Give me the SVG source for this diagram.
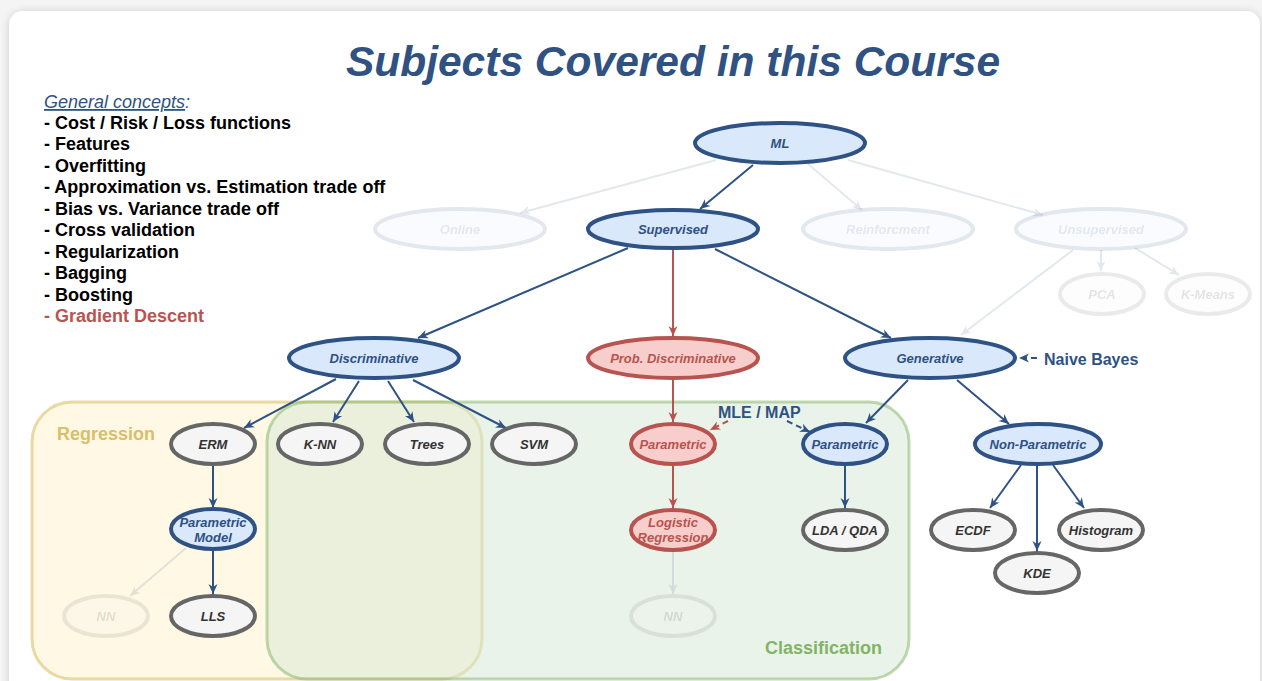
<svg xmlns="http://www.w3.org/2000/svg" width="1262" height="681" viewBox="0 0 1262 681">
<defs>
<style>
.t{font-family:"Liberation Sans",Arial,sans-serif;font-weight:bold;font-style:italic;font-size:13px;text-anchor:middle}
.bn{fill:#dae8fc;stroke:#2e5283;stroke-width:4}
.bt{fill:#2e5283}
.rn{fill:#f8cecc;stroke:#b85450;stroke-width:4}
.rt{fill:#b85450}
.gn{fill:#f5f5f5;stroke:#666666;stroke-width:4}
.gt{fill:#333333}
.fade{opacity:0.13}
.e{fill:none;stroke-width:2}
.eb{stroke:#2e5283}
.er{stroke:#b85450}
.list{font-family:"Liberation Sans",Arial,sans-serif;font-weight:bold;font-size:18px;fill:#000}
.list.red{fill:#b85450}
</style>
<marker id="ab" viewBox="0 0 10 10" refX="10" refY="5" markerWidth="11" markerHeight="10" markerUnits="userSpaceOnUse" orient="auto"><path d="M0,0.5 L10,5 L0,9.5 L3,5 Z" fill="#2e5283"/></marker>
<marker id="ar" viewBox="0 0 10 10" refX="10" refY="5" markerWidth="11" markerHeight="10" markerUnits="userSpaceOnUse" orient="auto"><path d="M0,0.5 L10,5 L0,9.5 L3,5 Z" fill="#b85450"/></marker>
<filter id="sh" x="-5%" y="-5%" width="110%" height="110%"><feGaussianBlur in="SourceAlpha" stdDeviation="4"/><feOffset dx="0" dy="1"/><feComponentTransfer><feFuncA type="linear" slope="0.18"/></feComponentTransfer><feMerge><feMergeNode/><feMergeNode in="SourceGraphic"/></feMerge></filter>
</defs>
<rect x="0" y="0" width="1262" height="681" fill="#f4f4f4"/>
<rect x="9" y="11" width="1251" height="700" rx="14" fill="#ffffff" filter="url(#sh)"/>

<text x="673" y="76" font-family="Liberation Sans,Arial,sans-serif" font-weight="bold" font-style="italic" font-size="42.5" fill="#2f5283" text-anchor="middle">Subjects Covered in this Course</text>

<g id="concepts">
<text x="44" y="108" font-family="Liberation Sans,Arial,sans-serif" font-style="italic" font-size="18" fill="#2f5283"><tspan text-decoration="underline">General concepts</tspan>:</text>
<text class="list" x="44" y="129">- Cost / Risk / Loss functions</text>
<text class="list" x="44" y="150.4">- Features</text>
<text class="list" x="44" y="171.9">- Overfitting</text>
<text class="list" x="44" y="193.3">- Approximation vs. Estimation trade off</text>
<text class="list" x="44" y="214.8">- Bias vs. Variance trade off</text>
<text class="list" x="44" y="236.2">- Cross validation</text>
<text class="list" x="44" y="257.6">- Regularization</text>
<text class="list" x="44" y="279.1">- Bagging</text>
<text class="list" x="44" y="300.5">- Boosting</text>
<text class="list red" x="44" y="322">- Gradient Descent</text>
</g>

<g id="containers">
<rect id="regression" x="32" y="402" width="450" height="277" rx="40" fill="#fff2cc" fill-opacity="0.5" stroke="#d6b656" stroke-opacity="0.5" stroke-width="3"/>
<rect id="classification" x="267" y="402" width="642" height="277" rx="40" fill="#d5e8d4" fill-opacity="0.5" stroke="#82b366" stroke-opacity="0.5" stroke-width="3"/>
<text x="57" y="440" font-family="Liberation Sans,Arial,sans-serif" font-weight="bold" font-size="18" fill="#d6b656" fill-opacity="0.9">Regression</text>
<text x="765" y="654" font-family="Liberation Sans,Arial,sans-serif" font-weight="bold" font-size="18" fill="#82b366">Classification</text>
</g>

<g id="connectors">
<g class="fade">
<line class="e eb" x1="716" y1="160" x2="520" y2="213" marker-end="url(#ab)"/>
<line class="e eb" x1="808" y1="164" x2="862" y2="210" marker-end="url(#ab)"/>
<line class="e eb" x1="848" y1="160" x2="1043" y2="215" marker-end="url(#ab)"/>
<line class="e eb" x1="1073" y1="250" x2="961" y2="335" marker-end="url(#ab)"/>
<line class="e eb" x1="1101" y1="250" x2="1101" y2="271" marker-end="url(#ab)"/>
<line class="e eb" x1="1135" y1="248" x2="1179" y2="275" marker-end="url(#ab)"/>
<line class="e eb" x1="186" y1="548" x2="130" y2="596" marker-end="url(#ab)"/>
<line class="e eb" x1="673" y1="552" x2="673" y2="594" marker-end="url(#ab)"/>
</g>
<line class="e eb" x1="753" y1="165" x2="700" y2="209" marker-end="url(#ab)"/>
<line class="e eb" x1="628" y1="248" x2="418" y2="338" marker-end="url(#ab)"/>
<line class="e er" x1="673" y1="250" x2="673" y2="336" marker-end="url(#ar)"/>
<line class="e eb" x1="715" y1="249" x2="891" y2="338" marker-end="url(#ab)"/>
<line class="e eb" x1="1037" y1="358" x2="1019" y2="358" stroke-dasharray="6 4" marker-end="url(#ab)"/>
<line class="e eb" x1="336" y1="379" x2="244" y2="428" marker-end="url(#ab)"/>
<line class="e eb" x1="359" y1="381" x2="333" y2="422" marker-end="url(#ab)"/>
<line class="e eb" x1="388" y1="381" x2="414" y2="422" marker-end="url(#ab)"/>
<line class="e eb" x1="413" y1="380" x2="506" y2="428" marker-end="url(#ab)"/>
<line class="e er" x1="673" y1="380" x2="673" y2="422" marker-end="url(#ar)"/>
<line class="e eb" x1="908" y1="380" x2="866" y2="423" marker-end="url(#ab)"/>
<line class="e eb" x1="957" y1="380" x2="1009" y2="424" marker-end="url(#ab)"/>
<line class="e er" x1="728" y1="421" x2="710" y2="430" stroke-dasharray="6 4" marker-end="url(#ar)"/>
<line class="e eb" x1="787" y1="421" x2="810" y2="432" stroke-dasharray="6 4" marker-end="url(#ab)"/>
<line class="e eb" x1="213" y1="466" x2="213" y2="508" marker-end="url(#ab)"/>
<line class="e eb" x1="213" y1="551" x2="213" y2="594" marker-end="url(#ab)"/>
<line class="e er" x1="673" y1="466" x2="673" y2="508" marker-end="url(#ar)"/>
<line class="e eb" x1="845" y1="466" x2="845" y2="508" marker-end="url(#ab)"/>
<line class="e eb" x1="1021" y1="465" x2="990" y2="508" marker-end="url(#ab)"/>
<line class="e eb" x1="1037" y1="466" x2="1037" y2="551" marker-end="url(#ab)"/>
<line class="e eb" x1="1053" y1="465" x2="1084" y2="508" marker-end="url(#ab)"/>
<text x="718" y="418" font-family="Liberation Sans,Arial,sans-serif" font-weight="bold" font-size="16" fill="#2e5283">MLE / MAP</text>
<text x="1044" y="365" font-family="Liberation Sans,Arial,sans-serif" font-weight="bold" font-size="16" fill="#2e5283">Naive Bayes</text>
</g>

<g id="n-ml"><ellipse class="bn" cx="780" cy="143" rx="85" ry="20"/><text class="t bt" x="780" y="148">ML</text></g>
<g id="n-online" class="fade"><ellipse class="bn" cx="460" cy="229" rx="85" ry="20"/><text class="t bt" x="460" y="234">Online</text></g>
<g id="n-supervised"><ellipse class="bn" cx="673" cy="229" rx="85" ry="19"/><text class="t bt" x="673" y="234">Supervised</text></g>
<g id="n-reinf" class="fade"><ellipse class="bn" cx="888" cy="229" rx="85" ry="20"/><text class="t bt" x="888" y="234">Reinforcment</text></g>
<g id="n-unsup" class="fade"><ellipse class="bn" cx="1101" cy="229" rx="85" ry="20"/><text class="t bt" x="1101" y="234">Unsupervised</text></g>
<g id="n-pca" class="fade"><ellipse class="gn" cx="1102" cy="294" rx="42" ry="20"/><text class="t gt" x="1102" y="299">PCA</text></g>
<g id="n-kmeans" class="fade"><ellipse class="gn" cx="1208" cy="294" rx="42" ry="20"/><text class="t gt" x="1208" y="299">K-Means</text></g>
<g id="n-disc"><ellipse class="bn" cx="374" cy="358" rx="85" ry="20"/><text class="t bt" x="374" y="363">Discriminative</text></g>
<g id="n-probdisc"><ellipse class="rn" cx="673" cy="358" rx="85" ry="20"/><text class="t rt" x="673" y="363">Prob. Discriminative</text></g>
<g id="n-gen"><ellipse class="bn" cx="930" cy="358" rx="85" ry="20"/><text class="t bt" x="930" y="363">Generative</text></g>
<g id="n-erm"><ellipse class="gn" cx="213" cy="444" rx="42" ry="20"/><text class="t gt" x="213" y="449">ERM</text></g>
<g id="n-knn"><ellipse class="gn" cx="320" cy="444" rx="42" ry="20"/><text class="t gt" x="320" y="449">K-NN</text></g>
<g id="n-trees"><ellipse class="gn" cx="427" cy="444" rx="42" ry="20"/><text class="t gt" x="427" y="449">Trees</text></g>
<g id="n-svm"><ellipse class="gn" cx="534" cy="444" rx="42" ry="20"/><text class="t gt" x="534" y="449">SVM</text></g>
<g id="n-param-r"><ellipse class="rn" cx="673" cy="444" rx="42" ry="20"/><text class="t rt" x="673" y="449">Parametric</text></g>
<g id="n-param-b"><ellipse class="bn" cx="845" cy="444" rx="42" ry="20"/><text class="t bt" x="845" y="449">Parametric</text></g>
<g id="n-nonparam"><ellipse class="bn" cx="1038" cy="444" rx="63" ry="20"/><text class="t bt" x="1038" y="449">Non-Parametric</text></g>
<g id="n-parammodel"><ellipse class="bn" cx="213" cy="529" rx="42" ry="20"/><text class="t bt" x="213" y="527">Parametric</text><text class="t bt" x="213" y="542">Model</text></g>
<g id="n-logreg"><ellipse class="rn" cx="673" cy="530" rx="42" ry="20"/><text class="t rt" x="673" y="527">Logistic</text><text class="t rt" x="673" y="542">Regression</text></g>
<g id="n-lda"><ellipse class="gn" cx="845" cy="530" rx="42" ry="20"/><text class="t gt" x="845" y="535">LDA / QDA</text></g>
<g id="n-ecdf"><ellipse class="gn" cx="973" cy="530" rx="42" ry="20"/><text class="t gt" x="973" y="535">ECDF</text></g>
<g id="n-hist"><ellipse class="gn" cx="1101" cy="530" rx="42" ry="20"/><text class="t gt" x="1101" y="535">Histogram</text></g>
<g id="n-kde"><ellipse class="gn" cx="1037" cy="573" rx="42" ry="20"/><text class="t gt" x="1037" y="578">KDE</text></g>
<g id="n-lls"><ellipse class="gn" cx="213" cy="616" rx="42" ry="20"/><text class="t gt" x="213" y="621">LLS</text></g>
<g id="n-nn1" class="fade"><ellipse class="gn" cx="106" cy="616" rx="42" ry="20"/><text class="t gt" x="106" y="621">NN</text></g>
<g id="n-nn2" class="fade"><ellipse class="gn" cx="673" cy="616" rx="42" ry="20"/><text class="t gt" x="673" y="621">NN</text></g>
</svg>
